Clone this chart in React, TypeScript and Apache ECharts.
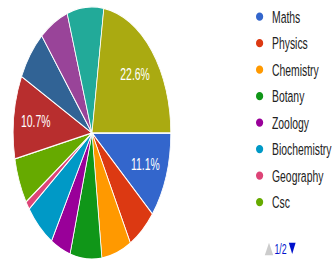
import React, { useEffect, useRef } from "react";
import * as echarts from "echarts";

const subjects = [
  "Maths",
  "Physics",
  "Chemistry",
  "Botany",
  "Zoology",
  "Biochemistry",
  "Geography",
  "Csc",
  "English",
  "Tamil",
  "History",
  "Economics",
  "Commerce",
];
const shares = [11.1, 5.8, 6.1, 6.5, 4.1, 6.1, 1.1, 5.9, 10.7, 6.6, 5.9, 7.5, 22.6];
const sliceColors = [
  "#3366cc",
  "#dc3912",
  "#ff9900",
  "#109618",
  "#990099",
  "#0099c6",
  "#dd4477",
  "#66aa00",
  "#b82e2e",
  "#316395",
  "#994499",
  "#22aa99",
  "#aaaa11",
];
const legendPageSize = 8;
const legendPageText = "1/2";

const SX = 0.8;
const SY = 1.28;
const W = 334 / SX;
const H = 265 / SY;
const FONT = 'Arial, "Liberation Sans", sans-serif';

export default function App() {
  const ref = useRef<HTMLDivElement>(null);

  useEffect(() => {
    if (!ref.current) return;
    const chart = echarts.init(ref.current, undefined, { renderer: "svg" });
    const cx = 115;
    const cy = 103.9;
    const r = 98.5;
    const labelRadius = 0.69 * r * 2;

    chart.setOption({
      animation: false,
      color: sliceColors,
      legend: {
        orient: "vertical",
        left: 318,
        top: 6.5,
        padding: 0,
        data: subjects.slice(0, legendPageSize),
        icon: "path://M0,4.3a5.5,4.3 0 1,0 11,0a5.5,4.3 0 1,0 -11,0z",
        itemWidth: 11,
        itemHeight: 8.6,
        itemGap: 7.7,
        selectedMode: false,
        textStyle: {
          fontSize: 13,
          lineHeight: 13,
          color: "#222222",
          fontFamily: FONT,
          padding: [0, 0, 0, 5],
        },
      },
      graphic: [
        {
          type: "polygon",
          shape: {
            points: [
              [331, 199.4],
              [341.5, 199.4],
              [336.25, 189.6],
            ],
          },
          style: { fill: "#cccccc" },
        },
        {
          type: "text",
          x: 343,
          y: 194.5,
          style: {
            text: legendPageText,
            fill: "#0011cc",
            font: `11px ${FONT}`,
            textVerticalAlign: "middle",
            verticalAlign: "middle",
          },
        },
        {
          type: "polygon",
          shape: {
            points: [
              [361, 189.6],
              [369.5, 189.6],
              [365.25, 198.4],
            ],
          },
          style: { fill: "#0011cc" },
        },
      ],
      series: [
        {
          type: "pie",
          center: [cx, cy],
          radius: r,
          startAngle: 0,
          clockwise: true,
          avoidLabelOverlap: false,
          percentPrecision: 1,
          label: { show: false },
          labelLine: { show: false },
          emphasis: { disabled: true },
          itemStyle: { borderColor: "#ffffff", borderWidth: 1 },
          data: subjects.map((n, i) => ({ name: n, value: shares[i] })),
        },
        {
          type: "pie",
          center: [cx, cy],
          radius: labelRadius,
          startAngle: 0,
          clockwise: true,
          silent: true,
          avoidLabelOverlap: false,
          percentPrecision: 1,
          emphasis: { disabled: true },
          itemStyle: { color: "transparent", borderWidth: 0 },
          labelLine: { show: false },
          label: {
            position: "inside",
            formatter: "{d}%",
            color: "#ffffff",
            fontSize: 13,
            fontFamily: FONT,
          },
          data: subjects.map((n, i) => ({
            name: n,
            value: shares[i],
            label: { show: shares[i] >= 10 },
          })),
        },
      ],
    });

    return () => chart.dispose();
  }, []);

  return (
    <div
      style={{
        position: "absolute",
        left: 0,
        top: 0,
        width: 334,
        height: 265,
        overflow: "hidden",
        background: "#ffffff",
      }}
    >
      <div
        ref={ref}
        style={{
          width: W,
          height: H,
          transform: `scale(${SX}, ${SY})`,
          transformOrigin: "0 0",
        }}
      />
    </div>
  );
}
